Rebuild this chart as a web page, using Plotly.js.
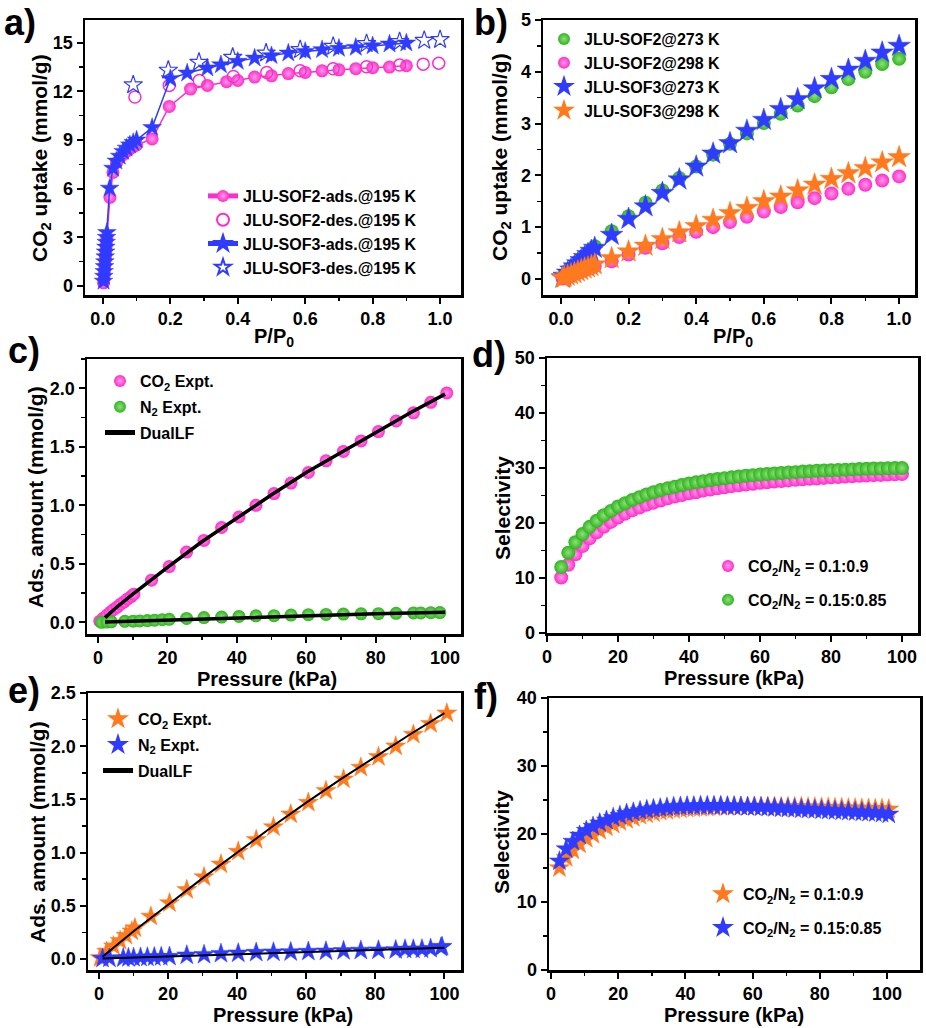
<!DOCTYPE html>
<html>
<head>
<meta charset="utf-8">
<script src="https://cdn.plot.ly/plotly-3.0.1.min.js"></script>
<style>
  body { margin: 0; background: #fff; }
  #chart { width: 926px; height: 1028px; }
</style>
</head>
<body>
<div id="chart"></div>
<script>
// panel a) CO2 isotherms at 195 K
var sof2AdsX = [0.002, 0.003, 0.004, 0.005, 0.006, 0.007, 0.008, 0.009, 0.010, 0.011, 0.012,
    0.021, 0.03, 0.04, 0.05, 0.06, 0.07, 0.08, 0.09, 0.10,
    0.146, 0.197, 0.26, 0.31, 0.367, 0.40, 0.45, 0.50, 0.55, 0.60, 0.65, 0.70, 0.75, 0.80, 0.85, 0.90];
var sof2AdsY = [0.2, 0.4, 0.7, 1.0, 1.3, 1.6, 1.9, 2.2, 2.5, 2.8, 3.0,
    5.47, 7.0, 7.6, 7.9, 8.1, 8.3, 8.45, 8.6, 8.7,
    9.07, 11.07, 12.14, 12.37, 12.6, 12.67, 12.88, 12.96, 13.1, 13.17, 13.27, 13.33, 13.4, 13.46, 13.5, 13.58];
var sof2DesX = [0.095, 0.197, 0.286, 0.387, 0.486, 0.585, 0.683, 0.782, 0.88, 0.95, 0.996];
var sof2DesY = [11.65, 12.37, 12.67, 12.92, 13.17, 13.27, 13.4, 13.52, 13.62, 13.68, 13.74];
var sof3AdsX = [0.002, 0.003, 0.004, 0.005, 0.006, 0.007, 0.008, 0.009, 0.010, 0.011, 0.012,
    0.02, 0.03, 0.04, 0.05, 0.06, 0.07, 0.08, 0.09, 0.10,
    0.146, 0.20, 0.25, 0.31, 0.35, 0.40, 0.45, 0.50, 0.55, 0.60, 0.65, 0.70, 0.75, 0.80, 0.85, 0.90];
var sof3AdsY = [0.3, 0.6, 0.9, 1.2, 1.5, 1.8, 2.1, 2.4, 2.7, 3.0, 3.3,
    6.03, 7.26, 7.7, 8.0, 8.3, 8.5, 8.7, 8.85, 9.0,
    9.77, 12.78, 13.13, 13.44, 13.64, 13.85, 14.05, 14.2, 14.36, 14.46, 14.57, 14.65, 14.71, 14.81, 14.92, 14.98];
var sof3DesX = [0.09, 0.194, 0.285, 0.385, 0.484, 0.585, 0.683, 0.782, 0.88, 0.953, 1.0];
var sof3DesY = [12.4, 13.3, 13.79, 14.1, 14.36, 14.57, 14.77, 14.94, 15.06, 15.14, 15.19];

// panel b) 273 K / 298 K
var relP = [0.005, 0.01, 0.02, 0.03, 0.04, 0.05, 0.06, 0.07, 0.08, 0.09, 0.10,
    0.15, 0.20, 0.25, 0.30, 0.35, 0.40, 0.45, 0.50, 0.55, 0.60, 0.65, 0.70, 0.75, 0.80, 0.85, 0.90, 0.95, 1.0];
var sof2At273 = [0.03, 0.07, 0.13, 0.19, 0.26, 0.32, 0.38, 0.44, 0.50, 0.56, 0.63,
    0.92, 1.21, 1.47, 1.71, 1.95, 2.17, 2.40, 2.61, 2.81, 3.01, 3.19, 3.35, 3.53, 3.70, 3.86, 4.00, 4.15, 4.25];
var sof2At298 = [0.01, 0.025, 0.05, 0.075, 0.10, 0.12, 0.15, 0.17, 0.20, 0.22, 0.25,
    0.34, 0.47, 0.60, 0.69, 0.81, 0.91, 1.00, 1.10, 1.20, 1.30, 1.39, 1.48, 1.56, 1.65, 1.74, 1.82, 1.90, 1.98];
var sof3At273 = [0.03, 0.06, 0.12, 0.18, 0.24, 0.30, 0.36, 0.42, 0.48, 0.54, 0.60,
    0.85, 1.16, 1.40, 1.66, 1.92, 2.17, 2.42, 2.62, 2.86, 3.07, 3.28, 3.47, 3.68, 3.86, 4.04, 4.21, 4.37, 4.50];
var sof3At298 = [0.015, 0.03, 0.06, 0.085, 0.11, 0.14, 0.17, 0.20, 0.22, 0.25, 0.28,
    0.40, 0.53, 0.64, 0.77, 0.90, 1.02, 1.14, 1.27, 1.37, 1.50, 1.59, 1.71, 1.82, 1.93, 2.04, 2.14, 2.25, 2.35];

// panel c) JLU-SOF2 single component, DualLF fit
var cCo2X = [0.5, 1.5, 2.5, 3.5, 4.5, 5.5, 6.5, 7.5, 8.5, 9.5, 10.3, 15.4, 20.5, 25.5, 30.5, 35.6, 40.6, 45.5,
    50.7, 55.6, 60.6, 65.7, 70.7, 75.8, 80.8, 85.9, 90.9, 95.9, 100.5];
var cCo2Y = [0.01, 0.035, 0.06, 0.085, 0.11, 0.13, 0.155, 0.175, 0.20, 0.22, 0.24, 0.36, 0.476, 0.60, 0.70, 0.81, 0.90, 1.00,
    1.10, 1.19, 1.28, 1.38, 1.46, 1.55, 1.63, 1.72, 1.79, 1.88, 1.96];
var cN2X = [1, 2.5, 3.8, 7.7, 10.1, 12, 14.2, 16.3, 18.5, 20.5, 25.5, 30.5, 35.6, 40.6, 45.5, 50.7, 55.6, 60.6,
    65.7, 70.7, 75.8, 80.8, 85.9, 90.9, 93, 95.9, 98.5];
var cN2Y = [0.0, 0.002, 0.004, 0.008, 0.01, 0.012, 0.015, 0.018, 0.022, 0.025, 0.033, 0.04, 0.045, 0.05, 0.055, 0.057, 0.062, 0.065,
    0.067, 0.07, 0.072, 0.074, 0.077, 0.08, 0.08, 0.082, 0.083];
var cFitX = [2, 5, 10, 20, 30, 40, 50, 60, 70, 80, 90, 100];
var cFitCo2 = [0.04, 0.12, 0.24, 0.47, 0.69, 0.89, 1.09, 1.28, 1.45, 1.62, 1.79, 1.95];
var cFitN2 = [0.002, 0.005, 0.01, 0.02, 0.03, 0.04, 0.05, 0.058, 0.066, 0.073, 0.08, 0.086];

// panel d) IAST selectivity, JLU-SOF2
var dP = [4, 6, 8, 10, 12, 14, 16, 18, 20, 22, 24, 26, 28, 30, 32, 34, 36, 38, 40, 42, 44, 46, 48, 50,
    52, 54, 56, 58, 60, 62, 64, 66, 68, 70, 72, 74, 76, 78, 80, 82, 84, 86, 88, 90, 92, 94, 96, 98, 100];
var dSel10 = [10.1, 12.4, 14.3, 15.8, 17.2, 18.3, 19.3, 20.2, 21.0, 21.7, 22.3, 22.8, 23.3, 23.7, 24.1, 24.5, 24.8, 25.1, 25.4, 25.6,
    25.9, 26.1, 26.3, 26.5, 26.7, 26.85, 27.0, 27.15, 27.3, 27.4, 27.55, 27.65, 27.75, 27.85, 27.95, 28.05, 28.1, 28.2, 28.3,
    28.35, 28.45, 28.5, 28.6, 28.65, 28.7, 28.75, 28.8, 28.85, 28.9];
var dSel15 = [12.0, 14.6, 16.5, 18.0, 19.3, 20.4, 21.4, 22.2, 23.0, 23.6, 24.2, 24.7, 25.2, 25.6, 26.0, 26.3, 26.6, 26.9, 27.2, 27.4,
    27.6, 27.8, 28.0, 28.15, 28.3, 28.45, 28.6, 28.7, 28.8, 28.9, 29.0, 29.1, 29.2, 29.25, 29.35, 29.4, 29.5, 29.55, 29.6,
    29.65, 29.7, 29.75, 29.8, 29.85, 29.9, 29.9, 29.95, 30.0, 30.0];

// panel e) JLU-SOF3 single component, DualLF fit
var eCo2X = [0.3, 2.2, 4.2, 6.1, 7.8, 9.5, 10.4, 15, 20.4, 25.4, 30.4, 35.3, 40.3, 45.5, 50.5, 55.5, 60.6, 65.7,
    70.8, 75.8, 80.9, 85.9, 91, 96, 100.7];
var eCo2Y = [0.01, 0.07, 0.12, 0.17, 0.22, 0.26, 0.29, 0.40, 0.526, 0.65, 0.77, 0.89, 1.01, 1.12, 1.24, 1.36, 1.47, 1.58,
    1.69, 1.80, 1.90, 2.00, 2.11, 2.21, 2.31];
var eN2X = [1, 3, 7, 8.5, 10, 12, 14, 16, 18, 20.4, 25.4, 30.4, 35.3, 40.3, 45.5, 50.5, 55.5, 60.6, 65.7, 70.8, 75.8,
    80.9, 85.9, 88.6, 91, 93.5, 96, 99, 99.3];
var eN2Y = [0.005, 0.006, 0.008, 0.01, 0.012, 0.014, 0.016, 0.018, 0.02, 0.022, 0.035, 0.04, 0.05, 0.054, 0.06, 0.063, 0.066, 0.07,
    0.072, 0.076, 0.08, 0.082, 0.085, 0.09, 0.09, 0.092, 0.097, 0.107, 0.116];
var eFitX = [1, 10, 20, 30, 40, 50, 60, 70, 80, 90, 100];
var eFitCo2 = [0.02, 0.26, 0.51, 0.76, 1.0, 1.24, 1.47, 1.69, 1.9, 2.11, 2.31];
var eFitN2 = [0.003, 0.012, 0.022, 0.033, 0.045, 0.055, 0.066, 0.076, 0.085, 0.095, 0.105];

// panel f) IAST selectivity, JLU-SOF3
var fP = [2.5, 4.5, 6.5, 8.5, 10.5, 12.5, 14.5, 16.5, 18.5, 20.5, 22.5, 24.5, 26.5, 28.5, 30.5, 32.5, 34.5, 36.5, 38.5, 40.5,
    42.5, 44.5, 46.5, 48.5, 50.5, 52.5, 54.5, 56.5, 58.5, 60.5, 62.5, 64.5, 66.5, 68.5, 70.5, 72.5, 74.5, 76.5, 78.5, 80.5,
    82.5, 84.5, 86.5, 88.5, 90.5, 92.5, 94.5, 96.5, 98.5, 100.5];
var fSel10 = [15.0, 16.5, 17.6, 18.5, 19.3, 19.9, 20.5, 21.0, 21.4, 21.8, 22.1, 22.4, 22.7, 22.9, 23.1, 23.3, 23.4, 23.55, 23.65, 23.75,
    23.8, 23.85, 23.9, 23.95, 24.0, 24.0, 24.0, 24.05, 24.05, 24.05, 24.05, 24.05, 24.05, 24.0, 24.0, 24.0, 24.0, 23.95, 23.95, 23.9,
    23.9, 23.85, 23.85, 23.8, 23.8, 23.75, 23.75, 23.7, 23.7, 23.65];
var fSel15 = [16.0, 17.8, 18.9, 19.8, 20.5, 21.1, 21.6, 22.0, 22.4, 22.7, 23.0, 23.2, 23.4, 23.55, 23.7, 23.8, 23.9, 24.0, 24.05, 24.1,
    24.1, 24.15, 24.15, 24.15, 24.15, 24.1, 24.1, 24.05, 24.0, 24.0, 23.95, 23.9, 23.85, 23.8, 23.75, 23.7, 23.65, 23.6, 23.55, 23.5,
    23.45, 23.4, 23.35, 23.3, 23.25, 23.2, 23.15, 23.1, 23.0, 22.9];

// axis titles and panel letters
var xTitles = ['P/P<sub>0</sub>', 'P/P<sub>0</sub>', 'Pressure (kPa)', 'Pressure (kPa)', 'Pressure (kPa)', 'Pressure (kPa)'];
var yTitles = ['CO<sub>2</sub> uptake (mmol/g)', 'CO<sub>2</sub> uptake (mmol/g)', 'Ads. amount (mmol/g)',
    'Selectivity', 'Ads. amount (mmol/g)', 'Selectivity'];
var panelTags = ['a)', 'b)', 'c)', 'd)', 'e)', 'f)'];

var MAGENTA = '#ff2ccb', GREEN = '#2fb51f', BLUE = '#2f3cff', ORANGE = '#ff7a1f';
var PINK_HI = '#ff9ce8', GREEN_HI = '#8fe07a';
var FONT = 'Liberation Sans, Arial, sans-serif';
var W = 926, H = 1028;

function ball(color, light, size) {
    return {symbol: 'circle', size: size, color: color, gradient: {type: 'radial', color: light}};
}
function star(color, size) {
    return {symbol: 'star', size: size, color: color, line: {width: 0.5, color: color}};
}

var data = [
    // a
    {x: sof2AdsX, y: sof2AdsY, xaxis: 'x', yaxis: 'y', legend: 'legend', mode: 'lines+markers',
     name: 'JLU-SOF2-ads.@195 K', line: {color: MAGENTA, width: 1.5}, marker: ball(MAGENTA, PINK_HI, 13)},
    {x: sof2DesX, y: sof2DesY, xaxis: 'x', yaxis: 'y', legend: 'legend', mode: 'markers',
     name: 'JLU-SOF2-des.@195 K', marker: {symbol: 'circle-open', size: 12, color: MAGENTA, line: {width: 1.5}}},
    {x: sof3AdsX, y: sof3AdsY, xaxis: 'x', yaxis: 'y', legend: 'legend', mode: 'lines+markers',
     name: 'JLU-SOF3-ads.@195 K', line: {color: BLUE, width: 1.5}, marker: star(BLUE, 14)},
    {x: sof3DesX, y: sof3DesY, xaxis: 'x', yaxis: 'y', legend: 'legend', mode: 'markers',
     name: 'JLU-SOF3-des.@195 K', marker: {symbol: 'star-open', size: 14, color: BLUE, line: {width: 1.2}}},
    // b
    {x: relP, y: sof2At273, xaxis: 'x2', yaxis: 'y2', legend: 'legend2', mode: 'markers',
     name: 'JLU-SOF2@273 K', marker: ball(GREEN, GREEN_HI, 14)},
    {x: relP, y: sof2At298, xaxis: 'x2', yaxis: 'y2', legend: 'legend2', mode: 'markers',
     name: 'JLU-SOF2@298 K', marker: ball(MAGENTA, PINK_HI, 14)},
    {x: relP, y: sof3At273, xaxis: 'x2', yaxis: 'y2', legend: 'legend2', mode: 'markers',
     name: 'JLU-SOF3@273 K', marker: star(BLUE, 17)},
    {x: relP, y: sof3At298, xaxis: 'x2', yaxis: 'y2', legend: 'legend2', mode: 'markers',
     name: 'JLU-SOF3@298 K', marker: star(ORANGE, 17)},
    // c
    {x: cCo2X, y: cCo2Y, xaxis: 'x3', yaxis: 'y3', legend: 'legend3', legendgroup: 'c1', mode: 'markers',
     name: 'CO<sub>2</sub> Expt.', marker: ball(MAGENTA, PINK_HI, 13)},
    {x: cN2X, y: cN2Y, xaxis: 'x3', yaxis: 'y3', legend: 'legend3', legendgroup: 'c2', mode: 'markers',
     name: 'N<sub>2</sub> Expt.', marker: ball(GREEN, GREEN_HI, 13)},
    {x: cFitX, y: cFitCo2, xaxis: 'x3', yaxis: 'y3', legend: 'legend3', legendgroup: 'c3', mode: 'lines',
     name: 'DualLF', line: {color: '#000', width: 3.5}},
    {x: cFitX, y: cFitN2, xaxis: 'x3', yaxis: 'y3', legend: 'legend3', legendgroup: 'c3', mode: 'lines',
     name: 'DualLF', showlegend: false, line: {color: '#000', width: 3.5}},
    // d
    {x: dP, y: dSel10, xaxis: 'x4', yaxis: 'y4', legend: 'legend4', legendgroup: 'd1', mode: 'markers',
     name: 'CO<sub>2</sub>/N<sub>2</sub> = 0.1:0.9', marker: ball(MAGENTA, PINK_HI, 14)},
    {x: dP, y: dSel15, xaxis: 'x4', yaxis: 'y4', legend: 'legend4', legendgroup: 'd2', mode: 'markers',
     name: 'CO<sub>2</sub>/N<sub>2</sub> = 0.15:0.85', marker: ball(GREEN, GREEN_HI, 14)},
    // e
    {x: eCo2X, y: eCo2Y, xaxis: 'x5', yaxis: 'y5', legend: 'legend5', legendgroup: 'e1', mode: 'markers',
     name: 'CO<sub>2</sub> Expt.', marker: star(ORANGE, 15)},
    {x: eN2X, y: eN2Y, xaxis: 'x5', yaxis: 'y5', legend: 'legend5', legendgroup: 'e2', mode: 'markers',
     name: 'N<sub>2</sub> Expt.', marker: star(BLUE, 15)},
    {x: eFitX, y: eFitCo2, xaxis: 'x5', yaxis: 'y5', legend: 'legend5', legendgroup: 'e3', mode: 'lines',
     name: 'DualLF', line: {color: '#000', width: 2}},
    {x: eFitX, y: eFitN2, xaxis: 'x5', yaxis: 'y5', legend: 'legend5', legendgroup: 'e3', mode: 'lines',
     name: 'DualLF', showlegend: false, line: {color: '#000', width: 2}},
    // f
    {x: fP, y: fSel10, xaxis: 'x6', yaxis: 'y6', legend: 'legend6', legendgroup: 'f1', mode: 'markers',
     name: 'CO<sub>2</sub>/N<sub>2</sub> = 0.1:0.9', marker: star(ORANGE, 15)},
    {x: fP, y: fSel15, xaxis: 'x6', yaxis: 'y6', legend: 'legend6', legendgroup: 'f2', mode: 'markers',
     name: 'CO<sub>2</sub>/N<sub>2</sub> = 0.15:0.85', marker: star(BLUE, 15)}
];

var tickFont = {family: FONT, size: 18, color: '#000', weight: 'bold'};
var xTitleFont = {family: FONT, size: 20, color: '#000', weight: 'bold'};
var yTitleFont = {family: FONT, size: 21, color: '#000', weight: 'bold'};

// box = [left, top, right, bottom] in pixels
function axisPair(box, xr, yr, xd, yd, xfmt, yfmt) {
    var common = {showline: true, mirror: true, linecolor: '#000', linewidth: 2.5, ticks: 'outside',
        ticklen: 6, tickwidth: 2, tickcolor: '#000', showgrid: false, zeroline: false, tickfont: tickFont};
    var xa = Object.assign({}, common, {
        domain: [box[0] / W, box[2] / W], range: xr, dtick: xd, tick0: 0, tickformat: xfmt,
        minor: {ticks: 'outside', ticklen: 3.5, tickwidth: 1.5, tickcolor: '#000', dtick: xd / 2, tick0: 0}
    });
    var ya = Object.assign({}, common, {
        domain: [1 - box[3] / H, 1 - box[1] / H], range: yr, dtick: yd, tick0: 0, tickformat: yfmt,
        minor: {ticks: 'outside', ticklen: 3.5, tickwidth: 1.5, tickcolor: '#000', dtick: yd / 2, tick0: 0}
    });
    return [xa, ya];
}

var pairs = [
    axisPair([85, 20, 461, 295], [-0.053, 1.062], [-0.55, 16.4], 0.2, 3, '.1f', 'd'),
    axisPair([543, 20, 915, 295], [-0.053, 1.047], [-0.31, 5.0], 0.2, 1, '.1f', 'd'),
    axisPair([87, 359, 461, 634], [-3.2, 104.6], [-0.10, 2.25], 20, 0.5, 'd', '.1f'),
    axisPair([547, 358, 918, 633], [0, 104.5], [0, 50], 20, 10, 'd', 'd'),
    axisPair([88, 693, 461, 970], [-3.2, 104.8], [-0.104, 2.5], 20, 0.5, 'd', '.1f'),
    axisPair([549, 698, 920, 970], [-0.6, 109.8], [0, 40], 20, 10, 'd', 'd')
];

// text positions in pixels: x-title centre, y-title centre, panel tag
var xTitlePos = [[274, 338], [733, 338], [267, 679], [734, 678], [283, 1015], [734, 1015]];
var yTitlePos = [[41, 158], [501, 157], [35, 497], [502, 508], [37, 832], [501, 842]];
var tagPos = [[2, 22], [472, 22], [6, 350], [470, 354], [6, 690], [472, 696]];

var legFont = {family: FONT, size: 16, color: '#000', weight: 'bold'};
function leg(left, top, gap) {
    return {x: left / W, y: 1 - top / H, xanchor: 'left', yanchor: 'top', bgcolor: 'rgba(0,0,0,0)',
        font: legFont, tracegroupgap: gap || 0, itemsizing: 'constant'};
}

function note(text, pos, font, angle, xanchor) {
    return {text: text, xref: 'paper', yref: 'paper', x: pos[0] / W, y: 1 - pos[1] / H,
        xanchor: xanchor || 'center', yanchor: 'middle', textangle: angle || 0, showarrow: false, font: font};
}

var annotations = [];
panelTags.forEach(function (t, i) {
    annotations.push(note(t, tagPos[i], {family: FONT, size: 36, color: '#000', weight: 'bold'}, 0, 'left'));
    annotations.push(note(xTitles[i], xTitlePos[i], xTitleFont));
    annotations.push(note(yTitles[i], yTitlePos[i], yTitleFont, -90));
});

var layout = {
    width: W, height: H,
    margin: {l: 0, r: 0, t: 0, b: 0},
    paper_bgcolor: '#fff', plot_bgcolor: '#fff',
    font: {family: FONT, color: '#000'},
    legend: leg(203, 179),
    legend2: leg(544, 22),
    legend3: leg(100, 364, 2),
    legend4: leg(708, 549, 10),
    legend5: leg(98, 702, 2),
    legend6: leg(703, 877, 10),
    annotations: annotations
};

pairs.forEach(function (p, i) {
    var n = i === 0 ? '' : String(i + 1);
    p[0].anchor = 'y' + n;
    p[1].anchor = 'x' + n;
    layout['xaxis' + n] = p[0];
    layout['yaxis' + n] = p[1];
});

Plotly.newPlot('chart', data, layout, {displayModeBar: false, staticPlot: true});
</script>
</body>
</html>
